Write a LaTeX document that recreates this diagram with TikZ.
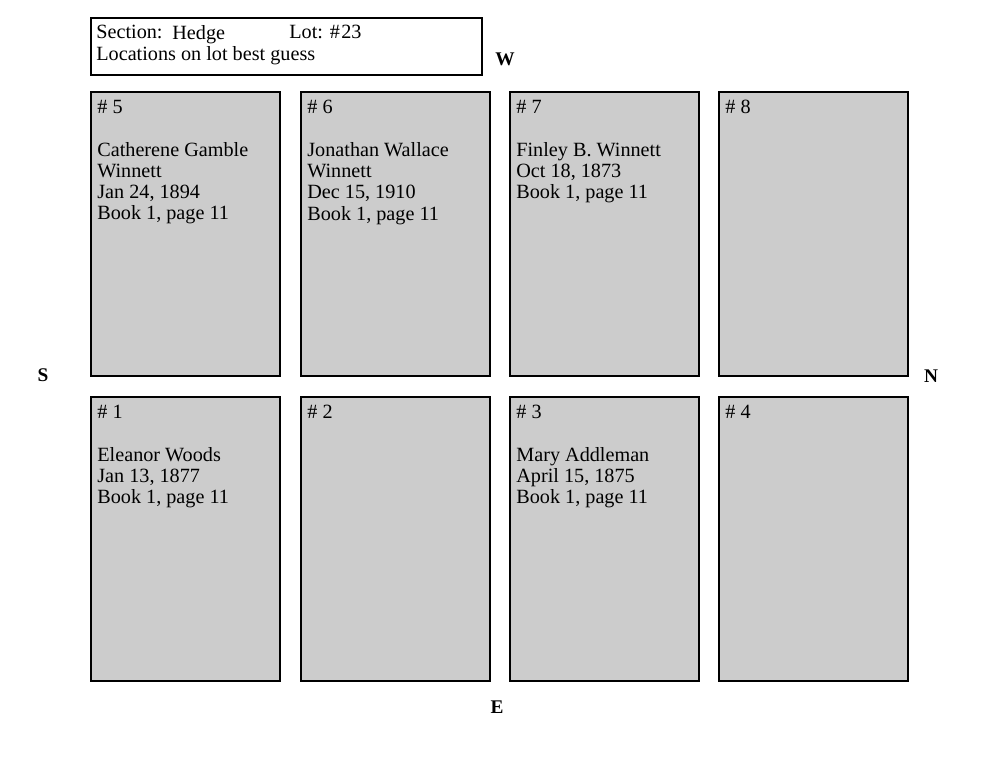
\documentclass[tikz,border=0pt]{standalone}
\usepackage{fontspec}
\setmainfont{Liberation Serif}
\usepackage{tikz}
\tikzstyle{lot}=[draw=black, line width=1.4pt, fill=black!20]
\tikzstyle{lottext}=[anchor=north west, align=left, inner sep=0pt, font=\fontsize{11.5}{12.1}\selectfont]
\tikzstyle{compass}=[font=\bfseries\fontsize{11}{13}\selectfont]

\begin{document}
\begin{tikzpicture}[x=0.02cm, y=-0.02cm]
	\useasboundingbox (0,0) rectangle (1000,773);
	\begin{scope}
		\draw[line width=0.8pt] (91,18) rectangle (482,75);
		\node (sec) at (96,25)[lottext] {Section:};
		\node (hedge) at (172,25)[lottext] {Hedge};
		\node (lotno) at (289,25)[lottext] {Lot: \#};
		\node (num) at (341,25)[lottext] {23};
		\node (guess) at (96,46)[lottext] {Locations on lot best guess};
	\end{scope}
	\begin{scope}
		\foreach \x/\y/\name/\txt in {
			91/92/5/{Catherene Gamble\\Winnett\\Jan 24, 1894\\Book 1, page 11},
			301/92/6/{Jonathan Wallace\\Winnett\\Dec 15, 1910\\Book 1, page 11},
			510/92/7/{Finley B. Winnett\\Oct 18, 1873\\Book 1, page 11},
			719/92/8/{},
			91/397/1/{Eleanor Woods\\Jan 13, 1877\\Book 1, page 11},
			301/397/2/{},
			510/397/3/{Mary Addleman\\April 15, 1875\\Book 1, page 11},
			719/397/4/{}} {
			\draw[lot] (\x,\y) rectangle +(189,284);
			\node (lot\name) at (\x+6,\y+8)[lottext] {\# \name\\[\baselineskip]\txt};
		}
	\end{scope}
	\begin{scope}
		\node (W) at (505,59)[compass] {W};
		\node (E) at (497,707)[compass] {E};
		\node (S) at (43,375)[compass] {S};
		\node (N) at (931,376)[compass] {N};
	\end{scope}
\end{tikzpicture}
\end{document}
